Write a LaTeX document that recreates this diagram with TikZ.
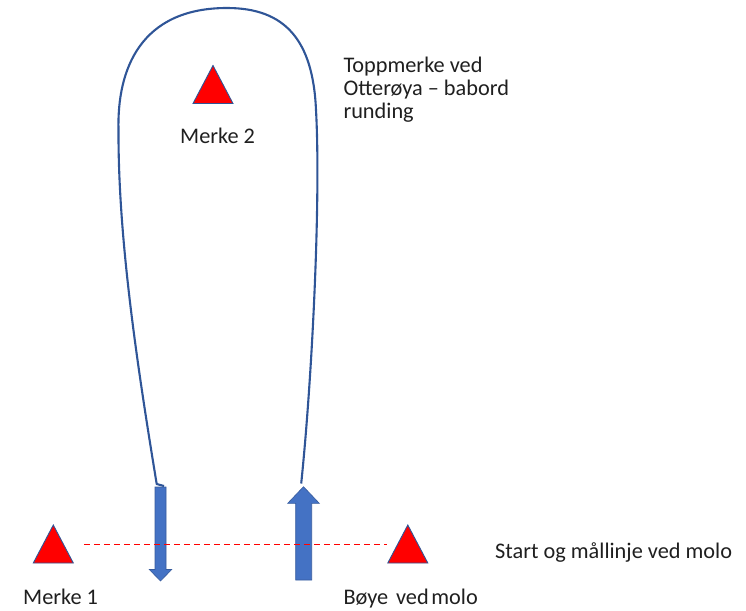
\documentclass[tikz,border=0pt]{standalone}
\usepackage{fontspec}
\setmainfont{Carlito}
\definecolor{linecol}{HTML}{2F5597}
\definecolor{arrowfill}{HTML}{4472C4}
\tikzset{
  x=1pt, y=-1pt,
  lbl/.style={inner sep=0pt, anchor=base west, font=\fontsize{22.3}{23.3}\selectfont, text=black!88},
  markertri/.pic={\path[fill=red, draw=linecol, line width=0.9pt] (-20,19) -- (0,-19) -- (20,19) -- cycle;},
  route/.style={draw=linecol, line width=2.1pt},
  bigarrow/.style={fill=arrowfill, draw=arrowfill!80!black, line width=0.6pt, line join=miter},
  finish/.style={draw=red, line width=1.3pt, dash pattern=on 6pt off 4pt},
}
\begin{document}
\begin{tikzpicture}
\useasboundingbox (0,0) rectangle (746,610);
% markers
\pic at (213,84.5) {markertri};
\pic at (53.3,544) {markertri};
\pic at (407.8,544) {markertri};
% start/finish line
\coordinate (lineL) at (84,544.5);
\coordinate (lineR) at (387,544.5);
% arrows
\path[bigarrow] (155,487) -- (166,487) -- (166,569.5) -- (171.7,569.5) -- (160.5,581) -- (149.3,569.5) -- (155,569.5) -- cycle;
\path[bigarrow] (295.7,580) -- (311.7,580) -- (311.7,503.3) -- (319.3,503.3) -- (303.5,486.7) -- (287.7,503.3) -- (295.7,503.3) -- cycle;
\draw[finish] (lineL) -- (lineR);
% route
\coordinate (routeA) at (164,486);
\coordinate (routeB) at (301.2,483.5);
\draw[route, line join=round] (routeA) -- (156.7,484)
  .. controls (138,370) and (118,240) .. (118.5,130)
  .. controls (117,70) and (140,8) .. (227,8)
  .. controls (285,8) and (313,40) .. (316,110)
  .. controls (321,200) and (312,380) .. (routeB);
% labels
\node[lbl] (m2) at (180,143.5) {Merke 2};
\node[lbl] (m1) at (23,604) {Merke 1};
\node[lbl] (boye) at (343.3,604) {Bøye\hspace{0.35em}ved\hspace{0.12em}molo};
\node[lbl] (sm) at (495,558.3) {Start og mållinje ved molo};
\node[lbl, align=left, anchor=north west] (top) at (343.3,56.5) {Toppmerke ved\\Otterøya – babord\\runding};
\end{tikzpicture}
\end{document}
